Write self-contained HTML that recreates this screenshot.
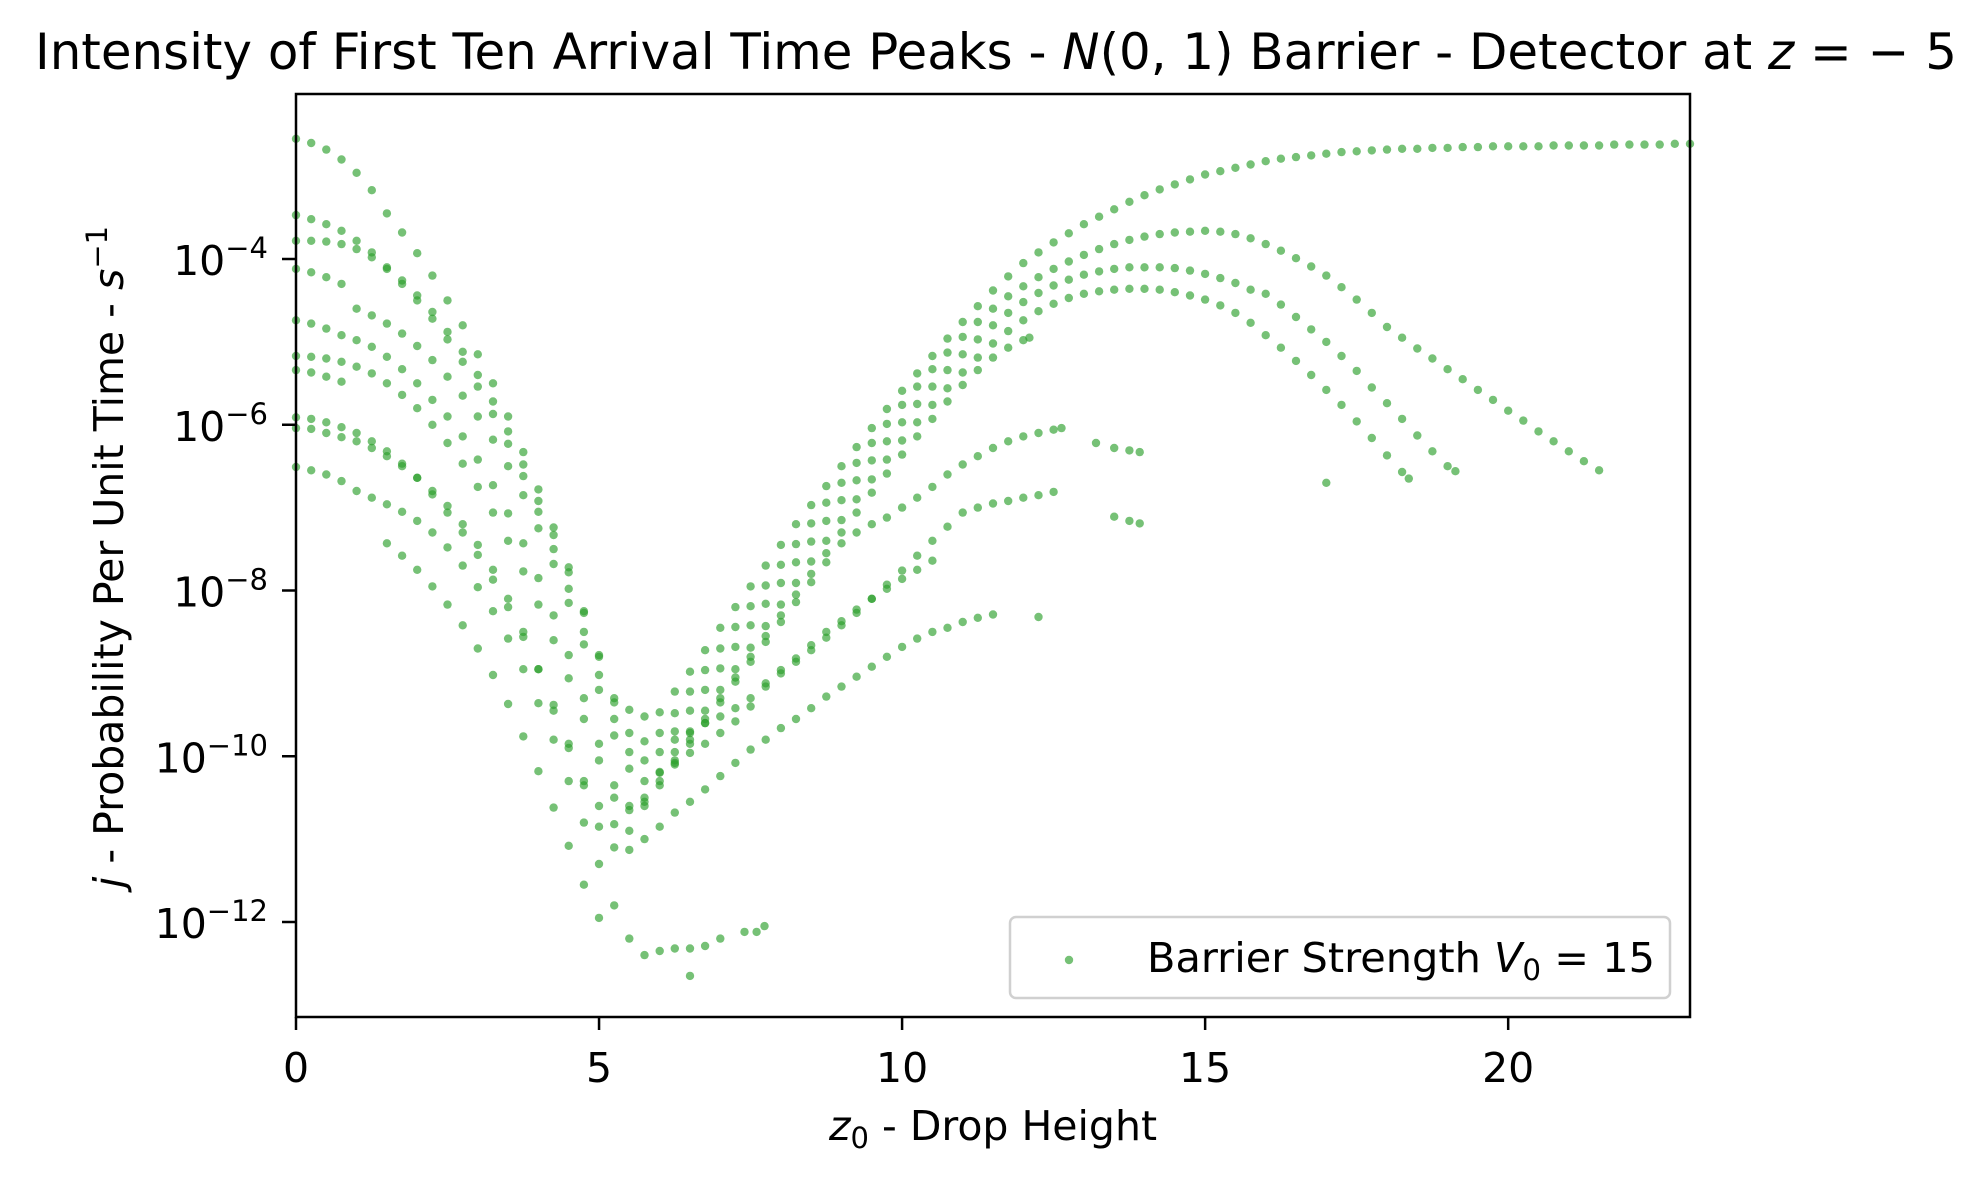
<!DOCTYPE html>
<html><head><meta charset="utf-8"><style>
html,body{margin:0;padding:0;background:#fff;}
svg{display:block;font-family:"DejaVu Sans","Liberation Sans",sans-serif;}
</style></head><body>
<svg id="chart" width="1987" height="1182" viewBox="0 0 1987 1182" xmlns="http://www.w3.org/2000/svg">
<rect width="1987" height="1182" fill="#fff"/>
<text x="35" y="69" font-size="50" textLength="1922" lengthAdjust="spacingAndGlyphs">Intensity of First Ten Arrival Time Peaks - <tspan font-style="italic">N</tspan>(0, 1) Barrier - Detector at <tspan font-style="italic">z</tspan> = − 5</text>
<g id="points"></g>
<rect x="296" y="94" width="1394" height="923" fill="none" stroke="#000" stroke-width="2.5"/>
<g id="xticks"></g>
<g id="yticks"></g>
<text x="993" y="1140" font-size="41" text-anchor="middle"><tspan font-style="italic">z</tspan><tspan font-size="29" dy="8">0</tspan><tspan dy="-8"> - Drop Height</tspan></text>
<text transform="translate(123,557) rotate(-90)" font-size="41" text-anchor="middle"><tspan font-style="italic">j</tspan> - Probability Per Unit Time - <tspan font-style="italic">s</tspan><tspan font-size="29" dy="-16">−1</tspan></text>
<g>
<rect x="1010" y="917" width="660" height="81" rx="6" fill="#fff" fill-opacity="0.8" stroke="#d0d0d0" stroke-width="2.5"/>
<circle cx="1069" cy="960" r="4.2" fill="#2ca02c" fill-opacity="0.65"/>
<text x="1147" y="972" font-size="41" textLength="508" lengthAdjust="spacingAndGlyphs">Barrier Strength <tspan font-style="italic">V</tspan><tspan font-size="29" dy="8">0</tspan><tspan dy="-8"> = 15</tspan></text>
</g>
</svg>
<script>
// values: [z0, log10(j)]
const peak1 = [[0,-2.55],[0.25,-2.6],[0.5,-2.68],[0.75,-2.8],[1,-2.96],[1.25,-3.17],[1.5,-3.45],[1.75,-3.68],[2,-3.93],[2.25,-4.2],[2.5,-4.5],[2.75,-4.8],[3,-5.15],[3.25,-5.5],[3.5,-5.9],[3.75,-6.33],[4,-6.78],[4.25,-7.24],[4.5,-7.72],[4.75,-8.25],[5,-8.78],[5.25,-9.3],[5.5,-9.44],[5.75,-9.52],[6,-9.47],[6.25,-9.22],[6.5,-8.98],[6.75,-8.72],[7,-8.45],[7.25,-8.2],[7.5,-7.95],[7.75,-7.7],[8,-7.45],[8.25,-7.2],[8.5,-6.97],[8.75,-6.74],[9,-6.5],[9.25,-6.27],[9.5,-6.04],[9.75,-5.81],[10,-5.59],[10.25,-5.38],[10.5,-5.17],[10.75,-4.96],[11,-4.76],[11.25,-4.57],[11.5,-4.38],[11.75,-4.21],[12,-4.05],[12.25,-3.92],[12.5,-3.8],[12.75,-3.69],[13,-3.58],[13.25,-3.49],[13.5,-3.4],[13.75,-3.31],[14,-3.23],[14.25,-3.16],[14.5,-3.1],[14.75,-3.04],[15,-2.98],[15.25,-2.94],[15.5,-2.9],[15.75,-2.86],[16,-2.82],[16.25,-2.79],[16.5,-2.77],[16.75,-2.75],[17,-2.73],[17.25,-2.71],[17.5,-2.7],[17.75,-2.69],[18,-2.68],[18.25,-2.67],[18.5,-2.67],[18.75,-2.66],[19,-2.66],[19.25,-2.65],[19.5,-2.65],[19.75,-2.64],[20,-2.64],[20.25,-2.64],[20.5,-2.64],[20.75,-2.63],[21,-2.63],[21.25,-2.63],[21.5,-2.63],[21.75,-2.62],[22,-2.62],[22.25,-2.62],[22.5,-2.62],[22.75,-2.61],[23,-2.61]];
const peak2 = [[0,-3.47],[0.25,-3.52],[0.5,-3.58],[0.75,-3.66],[1,-3.78],[1.25,-3.92],[1.5,-4.1],[1.75,-4.26],[2,-4.44],[2.25,-4.64],[2.5,-4.88],[2.75,-5.12],[3,-5.4],[3.25,-5.72],[3.5,-6.08],[3.75,-6.48],[4,-6.92],[4.25,-7.33],[4.5,-7.78],[4.75,-8.27],[5,-8.8],[5.25,-9.35],[5.5,-9.72],[5.75,-9.82],[6,-9.72],[6.25,-9.48],[6.5,-9.22],[6.75,-8.96],[7,-8.7],[7.25,-8.44],[7.5,-8.19],[7.75,-7.94],[8,-7.69],[8.25,-7.44],[8.5,-7.19],[8.75,-6.94],[9,-6.7],[9.25,-6.46],[9.5,-6.22],[9.75,-5.99],[10,-5.76],[10.25,-5.54],[10.5,-5.33],[10.75,-5.13],[11,-4.94],[11.25,-4.76],[11.5,-4.6],[11.75,-4.45],[12,-4.33],[12.25,-4.22],[12.5,-4.12],[12.75,-4.03],[13,-3.95],[13.25,-3.88],[13.5,-3.82],[13.75,-3.77],[14,-3.73],[14.25,-3.7],[14.5,-3.68],[14.75,-3.67],[15,-3.66],[15.25,-3.67],[15.5,-3.7],[15.75,-3.75],[16,-3.82],[16.25,-3.9],[16.5,-3.99],[16.75,-4.09],[17,-4.2],[17.25,-4.34],[17.5,-4.49],[17.75,-4.65],[18,-4.82],[18.25,-4.95],[18.5,-5.08],[18.75,-5.2],[19,-5.33],[19.25,-5.45],[19.5,-5.58],[19.75,-5.7],[20,-5.83],[20.25,-5.95],[20.5,-6.08],[20.75,-6.2],[21,-6.32],[21.25,-6.44],[21.5,-6.55]];
const peak3 = [[0,-3.78],[0.25,-3.78],[0.5,-3.79],[0.75,-3.82],[1,-3.88],[1.25,-3.98],[1.5,-4.12],[1.75,-4.3],[2,-4.5],[2.25,-4.72],[2.5,-4.97],[2.75,-5.24],[3,-5.54],[3.25,-5.87],[3.5,-6.23],[3.75,-6.62],[4,-7.05],[4.25,-7.5],[4.5,-7.98],[4.75,-8.5],[5,-9.02],[5.25,-9.55],[5.5,-9.95],[5.75,-10.05],[6,-9.95],[6.25,-9.7],[6.5,-9.45],[6.75,-9.2],[7,-8.94],[7.25,-8.68],[7.5,-8.42],[7.75,-8.16],[8,-7.91],[8.25,-7.66],[8.5,-7.41],[8.75,-7.16],[9,-6.91],[9.25,-6.67],[9.5,-6.43],[9.75,-6.2],[10,-5.97],[10.25,-5.75],[10.5,-5.54],[10.75,-5.34],[11,-5.15],[11.25,-4.97],[11.5,-4.8],[11.75,-4.65],[12,-4.52],[12.25,-4.41],[12.5,-4.32],[12.75,-4.25],[13,-4.19],[13.25,-4.15],[13.5,-4.12],[13.75,-4.1],[14,-4.1],[14.25,-4.1],[14.5,-4.11],[14.75,-4.14],[15,-4.18],[15.25,-4.23],[15.5,-4.29],[15.75,-4.37],[16,-4.42],[16.25,-4.55],[16.5,-4.7],[16.75,-4.85],[17,-5.0],[17.25,-5.17],[17.5,-5.35],[17.75,-5.55],[18,-5.74],[18.25,-5.93],[18.5,-6.13],[18.75,-6.32],[19,-6.5],[19.13,-6.56]];
const peak4 = [[0,-4.12],[0.25,-4.16],[0.5,-4.22],[0.75,-4.3],[1,-4.6],[1.25,-4.68],[1.5,-4.78],[1.75,-4.9],[2,-5.05],[2.25,-5.22],[2.5,-5.42],[2.75,-5.65],[3,-5.9],[3.25,-6.18],[3.5,-6.5],[3.75,-6.85],[4,-7.25],[4.25,-7.68],[4.5,-8.15],[4.75,-8.65],[5,-9.2],[5.25,-9.75],[5.5,-10.15],[5.75,-10.3],[6,-10.2],[6.25,-9.95],[6.5,-9.7],[6.75,-9.45],[7,-9.2],[7.25,-8.95],[7.5,-8.69],[7.75,-8.43],[8,-8.17],[8.25,-7.91],[8.5,-7.65],[8.75,-7.4],[9,-7.15],[9.25,-6.9],[9.5,-6.66],[9.75,-6.42],[10,-6.19],[10.25,-5.97],[10.5,-5.76],[10.75,-5.56],[11,-5.37],[11.25,-5.19],[11.5,-5.02],[11.75,-4.87],[12,-4.74],[12.25,-4.63],[12.5,-4.54],[12.75,-4.47],[13,-4.42],[13.25,-4.39],[13.5,-4.37],[13.75,-4.36],[14,-4.36],[14.25,-4.37],[14.5,-4.4],[14.75,-4.44],[15,-4.49],[15.25,-4.56],[15.5,-4.65],[15.75,-4.77],[16,-4.92],[16.25,-5.07],[16.5,-5.23],[16.75,-5.4],[17,-5.58],[17.25,-5.76],[17.5,-5.96],[17.75,-6.16],[18,-6.37],[18.25,-6.57],[18.36,-6.65]];
const peak5 = [[0,-4.74],[0.25,-4.78],[0.5,-4.84],[0.75,-4.92],[1,-4.98],[1.25,-5.06],[1.5,-5.18],[1.75,-5.33],[2,-5.5],[2.25,-5.7],[2.5,-5.9],[2.75,-6.14],[3,-6.42],[3.25,-6.73],[3.5,-7.07],[3.75,-7.43],[4,-7.85],[4.25,-8.3],[4.5,-8.78],[4.75,-9.3],[5,-9.85],[5.25,-10.35],[5.5,-10.6],[5.75,-10.5],[6,-10.3],[6.25,-10.05],[6.5,-9.8],[6.75,-9.55],[7,-9.3],[7.25,-9.05],[7.5,-8.8],[7.75,-8.55],[8,-8.3],[8.25,-8.05],[8.5,-7.8],[8.75,-7.55],[9,-7.3],[9.25,-7.06],[9.5,-6.82],[9.75,-6.59],[10,-6.36],[10.25,-6.14],[10.5,-5.93],[10.75,-5.72],[11,-5.52],[11.25,-5.34],[11.5,-5.19],[11.75,-5.07],[12,-4.98],[12.1,-4.95]];
const peak6 = [[0,-5.17],[0.25,-5.18],[0.5,-5.2],[0.75,-5.24],[1,-5.3],[1.25,-5.38],[1.5,-5.5],[1.75,-5.64],[2,-5.8],[2.25,-6.0],[2.5,-6.22],[2.75,-6.47],[3,-6.75],[3.25,-7.06],[3.5,-7.4],[3.75,-7.77],[4,-8.17],[4.25,-8.6],[4.5,-9.06],[4.75,-9.55],[5,-10.05],[5.25,-10.5],[5.5,-10.65],[5.75,-10.55],[6,-10.35],[6.25,-10.1],[6.5,-9.85],[6.75,-9.6],[7,-9.35],[7.25,-9.1],[7.5,-8.86],[7.75,-8.62],[8,-8.38],[8.25,-8.14],[8.5,-7.9],[8.75,-7.66],[9,-7.43],[9.25,-7.3],[9.5,-7.2],[9.75,-7.12],[10,-7.0],[10.25,-6.88],[10.5,-6.75],[10.75,-6.6],[11,-6.48],[11.25,-6.38],[11.5,-6.28],[11.75,-6.2],[12,-6.14],[12.25,-6.1],[12.5,-6.06],[12.63,-6.04],[13.2,-6.22],[13.5,-6.28],[13.75,-6.31],[13.92,-6.33]];
const peak7 = [[0,-5.34],[0.25,-5.37],[0.5,-5.42],[0.75,-5.48],[6.25,-9.8],[6.5,-9.72],[6.75,-9.6],[7,-9.52],[7.25,-9.42],[7.5,-9.3],[7.75,-9.12],[8,-8.96],[8.25,-8.82],[8.5,-8.66],[8.75,-8.5],[9,-8.37],[9.25,-8.23],[9.5,-8.1],[9.75,-7.98],[10,-7.86],[10.25,-7.75],[10.5,-7.64]];
const peak8 = [[0,-5.91],[0.25,-5.93],[0.5,-5.97],[0.75,-6.03],[1,-6.1],[1.25,-6.2],[1.5,-6.32],[1.75,-6.47],[2,-6.64],[2.25,-6.84],[2.5,-7.06],[2.75,-7.3],[3,-7.57],[3.25,-7.87],[3.5,-8.2],[3.75,-8.56],[4,-8.95],[4.25,-9.38],[4.5,-9.85],[4.75,-10.35],[5,-10.85],[5.25,-11.1],[5.5,-11.13],[5.75,-11.0],[6,-10.85],[6.25,-10.68],[6.5,-10.55],[6.75,-10.4],[7,-10.24],[7.25,-10.08],[7.5,-9.92],[7.75,-9.8],[8,-9.66],[8.25,-9.55],[8.5,-9.42],[8.75,-9.28],[9,-9.16],[9.25,-9.04],[9.5,-8.92],[9.75,-8.8],[10,-8.68],[10.25,-8.58],[10.5,-8.5],[10.75,-8.45],[11,-8.38],[11.25,-8.33],[11.5,-8.29],[12.25,-8.32]];
const peak9 = [[0,-6.04],[0.25,-6.05],[0.5,-6.1],[0.75,-6.15],[1,-6.2],[1.25,-6.28],[1.5,-6.38],[1.75,-6.5],[2,-6.64],[2.25,-6.8],[2.5,-6.98],[2.75,-7.2],[3,-7.45],[3.25,-7.75],[3.5,-8.1],[3.75,-8.5],[4,-8.95],[4.25,-9.45],[4.5,-9.9],[4.75,-10.3],[5,-10.6],[5.25,-10.82],[5.5,-10.9],[5.75,-10.6],[6,-10.19],[6.25,-10.08],[6.5,-9.96],[6.75,-9.85],[7,-9.72],[7.25,-9.58],[7.5,-9.4],[7.75,-9.16],[8,-9.0],[8.25,-8.86],[8.5,-8.72],[8.75,-8.57],[9,-8.42],[9.25,-8.27],[9.5,-8.1],[9.75,-7.93],[10,-7.76],[10.25,-7.58],[10.5,-7.4],[10.75,-7.23],[11,-7.06],[11.25,-7.0],[11.5,-6.95],[11.75,-6.92],[12,-6.88],[12.25,-6.85],[12.5,-6.81],[13.5,-7.11],[13.75,-7.16],[13.92,-7.19]];
const peak10 = [[0,-6.51],[0.25,-6.55],[0.5,-6.6],[0.75,-6.68],[1,-6.8],[1.25,-6.88],[1.5,-6.96],[1.75,-7.05],[2,-7.16],[2.25,-7.3],[2.5,-7.48],[2.75,-7.7],[3,-7.96],[3.25,-8.25],[3.5,-8.58],[3.75,-8.95],[4,-9.36],[4.25,-9.8],[4.5,-10.3],[4.75,-10.8],[5,-11.3],[5.25,-11.8],[5.5,-12.2],[5.75,-12.4],[6,-12.35],[6.25,-12.32],[6.5,-12.32],[6.75,-12.29],[7,-12.2],[7.4,-12.12],[7.6,-12.12],[7.73,-12.05]];
const extraBranch = [[1.5,-7.43],[1.75,-7.58],[2,-7.75],[2.25,-7.95],[2.5,-8.17],[2.75,-8.42],[3,-8.7],[3.25,-9.02],[3.5,-9.37],[3.75,-9.76],[4,-10.18],[4.25,-10.62],[4.5,-11.08],[4.75,-11.55],[5,-11.95],[6.5,-12.65],[17.0,-6.7]];
const allSeries = [peak1, peak2, peak3, peak4, peak5, peak6, peak7, peak8, peak9, peak10, extraBranch];
const xTicks = [0, 5, 10, 15, 20];
const yTicks = [-4, -6, -8, -10, -12];

const NS = 'http://www.w3.org/2000/svg';
function xScale(v){ return 296 + (v - 0) * (1394 / 23); }
function yScale(l){ return 259 - (l - (-4)) * 82.875; }

const pg = document.getElementById('points');
allSeries.forEach(function(series, si){
  series.forEach(function(p){
    const c = document.createElementNS(NS, 'circle');
    c.setAttribute('cx', xScale(p[0]).toFixed(1));
    c.setAttribute('cy', yScale(p[1]).toFixed(1));
    c.setAttribute('r', '4.2');
    c.setAttribute('fill', '#2ca02c');
    c.setAttribute('fill-opacity', '0.65');
    
    
    pg.appendChild(c);
  });
});

const xg = document.getElementById('xticks');
xTicks.forEach(function(t){
  const x = xScale(t);
  const ln = document.createElementNS(NS, 'line');
  ln.setAttribute('x1', x); ln.setAttribute('x2', x);
  ln.setAttribute('y1', 1017); ln.setAttribute('y2', 1030);
  ln.setAttribute('stroke', '#000'); ln.setAttribute('stroke-width', '2.5');
  
  
  xg.appendChild(ln);
  const tx = document.createElementNS(NS, 'text');
  tx.setAttribute('x', x); tx.setAttribute('y', 1082);
  tx.setAttribute('font-size', '41'); tx.setAttribute('text-anchor', 'middle');
  tx.textContent = String(t);
  
  
  xg.appendChild(tx);
});

const yg = document.getElementById('yticks');
yTicks.forEach(function(t){
  const y = yScale(t);
  const ln = document.createElementNS(NS, 'line');
  ln.setAttribute('x1', 282); ln.setAttribute('x2', 296);
  ln.setAttribute('y1', y); ln.setAttribute('y2', y);
  ln.setAttribute('stroke', '#000'); ln.setAttribute('stroke-width', '2.5');
  
  
  yg.appendChild(ln);
  const tx = document.createElementNS(NS, 'text');
  tx.setAttribute('x', 268); tx.setAttribute('y', y + 16);
  tx.setAttribute('font-size', '41'); tx.setAttribute('text-anchor', 'end');
  
  
  const base = document.createElementNS(NS, 'tspan');
  base.textContent = '10';
  const sup = document.createElementNS(NS, 'tspan');
  sup.setAttribute('font-size', '29'); sup.setAttribute('dy', '-17');
  sup.textContent = '−' + String(Math.abs(t));
  tx.appendChild(base); tx.appendChild(sup);
  yg.appendChild(tx);
});
</script>
</body></html>
